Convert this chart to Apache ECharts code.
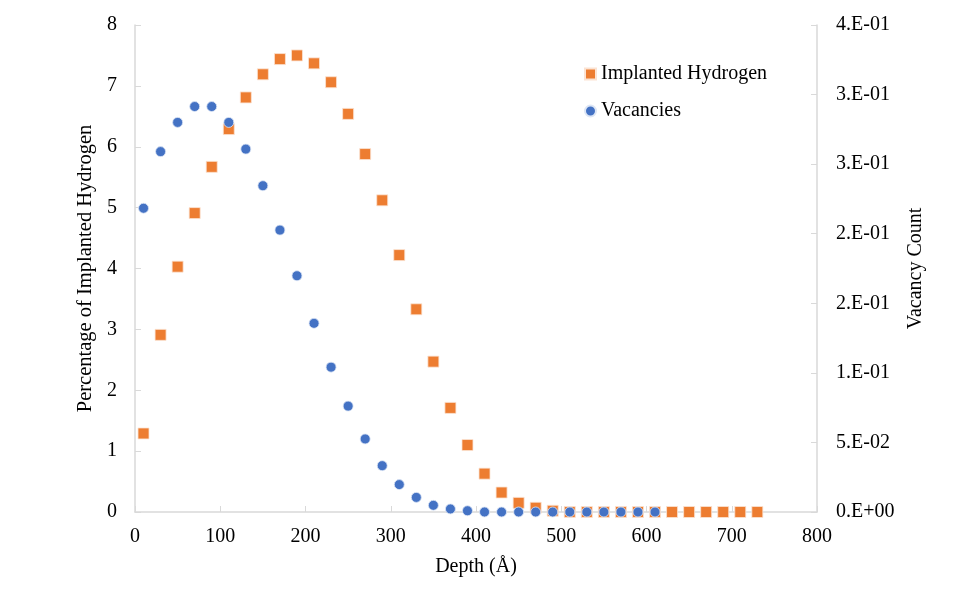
<!DOCTYPE html>
<html>
<head>
<meta charset="utf-8">
<script src="https://cdn.jsdelivr.net/npm/echarts@6/dist/echarts.min.js"></script>
<style>html,body{margin:0;padding:0;background:#fff}#c{width:973px;height:603px}</style>
</head>
<body>
<div id="c"></div>
<script>
const hydrogenDepth = [10,30,50,70,90,110,130,150,170,190,210,230,250,270,290,310,330,350,370,390,410,430,450,470,490,510,530,550,570,590,610,630,650,670,690,710,730];
const hydrogenPct = [1.29,2.91,4.03,4.91,5.67,6.29,6.81,7.19,7.44,7.50,7.37,7.06,6.54,5.88,5.12,4.22,3.33,2.47,1.71,1.10,0.63,0.32,0.15,0.07,0.02,0,0,0,0,0,0,0,0,0,0,0,0];
const vacancyDepth = [10,30,50,70,90,110,130,150,170,190,210,230,250,270,290,310,330,350,370,390,410,430,450,470,490,510,530,550,570,590,610];
const vacancyCount = [0.2183,0.259,0.280,0.2914,0.2914,0.280,0.2608,0.2345,0.2026,0.1698,0.1356,0.1041,0.0761,0.0525,0.0333,0.0197,0.0105,0.0048,0.0022,0.0009,0,0,0,0,0,0,0,0,0,0,0];
const rightTickLabels = ['0.E+00','5.E-02','1.E-01','2.E-01','2.E-01','3.E-01','3.E-01','4.E-01'];

const font = 'Liberation Serif';
const axisLineColor = '#d9d9d9';
const chart = echarts.init(document.getElementById('c'));
chart.setOption({
  animation: false,
  backgroundColor: '#fff',
  grid: {left: 135, right: 156, top: 25, bottom: 91},
  legend: {
    orient: 'vertical', left: 579, top: 59, itemGap: 17,
    itemWidth: 11, itemHeight: 11,
    textStyle: {fontFamily: font, fontSize: 20, color: '#000'},
    data: [{name: 'Implanted Hydrogen', icon: 'rect'}, {name: 'Vacancies', icon: 'circle'}]
  },
  xAxis: {
    type: 'value', min: 0, max: 800, interval: 100,
    name: 'Depth (Å)', nameLocation: 'middle', nameGap: 45,
    nameTextStyle: {fontFamily: font, fontSize: 20, color: '#000'},
    axisLine: {lineStyle: {color: axisLineColor, width: 1.5}},
    axisTick: {inside: true, length: 6, lineStyle: {color: axisLineColor}},
    axisLabel: {fontFamily: font, fontSize: 20, color: '#000', margin: 15},
    splitLine: {show: false}
  },
  yAxis: [{
    type: 'value', min: 0, max: 8, interval: 1,
    name: 'Percentage of Implanted Hydrogen', nameLocation: 'middle', nameGap: 33,
    nameTextStyle: {fontFamily: font, fontSize: 20.5, color: '#000'},
    axisLine: {show: true, lineStyle: {color: axisLineColor, width: 1.5}},
    axisTick: {show: true, inside: true, length: 6, lineStyle: {color: axisLineColor}},
    axisLabel: {fontFamily: font, fontSize: 20, color: '#000', margin: 18},
    splitLine: {show: false}
  }, {
    type: 'value', min: 0, max: 0.35, interval: 0.05, position: 'right',
    name: 'Vacancy Count', nameLocation: 'middle', nameGap: 86,
    nameTextStyle: {fontFamily: font, fontSize: 20, color: '#000'},
    axisLine: {show: true, lineStyle: {color: axisLineColor, width: 1.5}},
    axisTick: {show: true, inside: true, length: 6, lineStyle: {color: axisLineColor}},
    axisLabel: {fontFamily: font, fontSize: 20, color: '#000', margin: 19,
      formatter: function (v) { return rightTickLabels[Math.round(v / 0.05)]; }},
    splitLine: {show: false}
  }],
  series: [{
    name: 'Implanted Hydrogen', type: 'scatter', yAxisIndex: 0,
    symbol: 'rect', symbolSize: 11,
    itemStyle: {color: '#ED7D31', opacity: 1, borderColor: '#fbe3d3', borderWidth: 0.8},
    data: hydrogenDepth.map((d, i) => [d, hydrogenPct[i]])
  }, {
    name: 'Vacancies', type: 'scatter', yAxisIndex: 1,
    symbol: 'circle', symbolSize: 10,
    itemStyle: {color: '#4472C4', opacity: 1, borderColor: '#dde6f5', borderWidth: 0.8},
    data: vacancyDepth.map((d, i) => [d, vacancyCount[i]])
  }]
});
</script>
</body>
</html>
